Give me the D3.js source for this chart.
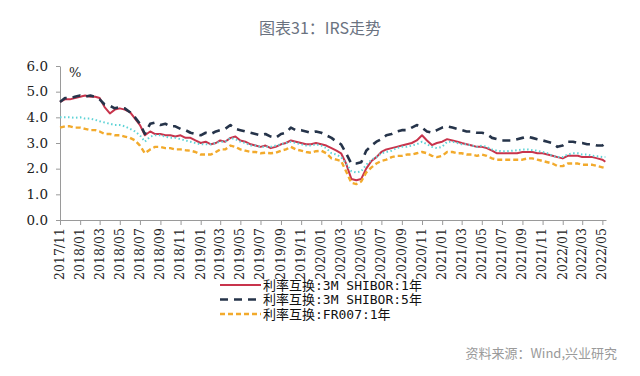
<!DOCTYPE html>
<html>
<head>
<meta charset="utf-8">
<script src="https://cdn.jsdelivr.net/npm/d3@7"></script>
<style>
  body { margin: 0; background: #fff; }
  svg { display: block; }
</style>
</head>
<body>
<svg id="chart" width="640" height="376"></svg>
<script>
// half-month readings, 2017/11 .. 2022/05
var red1y = [
  4.6,4.7, 4.7,4.75,
  4.8,4.85, 4.8,4.8, 4.75,4.4, 4.15,4.3, 4.35,4.3, 4.2,3.95, 3.7,3.3, 3.45,3.35, 3.35,3.3, 3.3,3.25, 3.3,3.2, 3.2,3.1,
  3.0,3.05, 2.95,3.0, 3.1,3.05, 3.2,3.25, 3.1,3.05, 2.95,2.9, 2.85,2.9, 2.8,2.85, 2.95,3.0, 3.1,3.05, 3.0,2.95, 2.95,3.0,
  2.95,2.9, 2.8,2.7, 2.6,2.2, 1.6,1.55, 1.6,2.0, 2.3,2.45, 2.65,2.75, 2.8,2.85, 2.9,2.95, 3.0,3.1, 3.3,3.1, 2.92,3.0,
  3.05,3.15, 3.1,3.05, 3.0,2.95, 2.9,2.85, 2.85,2.8, 2.7,2.6, 2.6,2.6, 2.6,2.6, 2.65,2.65, 2.65,2.6, 2.6,2.55, 2.5,2.45,
  2.4,2.5, 2.5,2.5, 2.45,2.45, 2.45,2.4, 2.35,2.27
];
var shibor5y = [
  4.6,4.75, 4.75,4.8,
  4.85,4.8, 4.85,4.8, 4.7,4.5, 4.45,4.35, 4.4,4.35, 4.2,4.0, 3.75,3.35, 3.75,3.8, 3.7,3.75, 3.65,3.65, 3.55,3.5, 3.4,3.35,
  3.3,3.4, 3.35,3.45, 3.5,3.55, 3.7,3.55, 3.5,3.45, 3.4,3.35, 3.3,3.35, 3.25,3.2, 3.35,3.4, 3.6,3.5, 3.5,3.45, 3.4,3.45,
  3.4,3.3, 3.2,3.05, 2.95,2.6, 2.2,2.2, 2.25,2.7, 2.9,3.05, 3.15,3.3, 3.35,3.45, 3.5,3.5, 3.6,3.7, 3.6,3.45, 3.4,3.5,
  3.6,3.65, 3.6,3.55, 3.5,3.45, 3.45,3.4, 3.4,3.35, 3.2,3.15, 3.1,3.1, 3.1,3.15, 3.2,3.25, 3.2,3.15, 3.1,3.05, 3.0,2.85,
  2.9,3.05, 3.05,3.0, 3.0,2.95, 2.95,2.9, 2.9,3.0
];
var fr007_5y = [
  4.0,4.0, 4.0,3.98,
  4.0,3.95, 3.95,3.9, 3.85,3.8, 3.75,3.7, 3.7,3.65, 3.55,3.45, 3.3,3.05, 3.25,3.3, 3.3,3.25, 3.2,3.2, 3.15,3.1, 3.05,3.0,
  2.95,2.95, 2.95,3.0, 3.05,3.05, 3.2,3.15, 3.05,3.0, 2.9,2.9, 2.85,2.85, 2.85,2.9, 2.95,3.0, 3.05,3.0, 2.95,2.9, 2.9,2.95,
  2.9,2.8, 2.6,2.55, 2.45,2.2, 1.9,1.85, 1.9,2.15, 2.35,2.45, 2.6,2.65, 2.7,2.8, 2.85,2.85, 2.9,2.95, 3.05,2.95, 2.85,2.8,
  2.85,3.05, 3.05,3.0, 2.95,2.95, 2.9,2.85, 2.9,2.85, 2.75,2.7, 2.68,2.68, 2.7,2.72, 2.75,2.75, 2.72,2.7, 2.65,2.6, 2.5,2.45,
  2.45,2.55, 2.6,2.6, 2.55,2.55, 2.5,2.48, 2.45,2.45
];
var fr007_1y = [
  3.6,3.65, 3.65,3.6,
  3.6,3.55, 3.5,3.5, 3.45,3.35, 3.35,3.3, 3.3,3.25, 3.2,3.1, 2.9,2.6, 2.75,2.85, 2.85,2.8, 2.8,2.75, 2.75,2.72, 2.7,2.65,
  2.55,2.55, 2.55,2.65, 2.75,2.75, 2.9,2.85, 2.75,2.7, 2.65,2.65, 2.6,2.62, 2.6,2.62, 2.7,2.75, 2.85,2.75, 2.7,2.65, 2.62,2.68,
  2.7,2.6, 2.4,2.35, 2.3,1.9, 1.45,1.4, 1.5,1.85, 2.05,2.2, 2.3,2.35, 2.45,2.5, 2.5,2.55, 2.55,2.6, 2.65,2.6, 2.5,2.45,
  2.5,2.65, 2.65,2.6, 2.6,2.55, 2.55,2.5, 2.55,2.5, 2.4,2.35, 2.35,2.35, 2.35,2.35, 2.35,2.4, 2.4,2.35, 2.3,2.25, 2.2,2.1,
  2.1,2.2, 2.2,2.2, 2.15,2.15, 2.15,2.1, 2.05,2.02
];
var yTicks = [0, 1, 2, 3, 4, 5, 6];
var legendNames = ['利率互换:3M SHIBOR:1年', '利率互换:3M SHIBOR:5年', '利率互换:FR007:1年'];

var serifFont = '"DejaVu Serif", "Liberation Serif", serif';

function drawChart() {
  // x categories: 1st and 16th of each month, then the last May points
  var dates = [];
  d3.timeMonth.range(new Date(2017, 10, 1), new Date(2022, 4, 1)).forEach(function(m) {
    dates.push(m);
    dates.push(new Date(m.getFullYear(), m.getMonth(), 16));
  });
  dates.push(new Date(2022, 4, 1));
  dates.push(new Date(2022, 4, 10));

  var series = [
    {values: red1y,    color: '#c8344c', width: 2,   dash: null},
    {values: fr007_5y, color: '#5fd3d6', width: 2,   dash: '1.5,2.5'},
    {values: fr007_1y, color: '#f2aa2c', width: 2.4, dash: '5,3'},
    {values: shibor5y, color: '#26344a', width: 2.6, dash: '8,6'}
  ];

  var svg = d3.select('#chart');
  var plotLeft = 60, plotRight = 606, plotTop = 66, plotBottom = 220;

  var x = d3.scaleTime()
      .domain([new Date(2017, 10, 1), new Date(2022, 4, 12)])
      .range([plotLeft, plotRight]);
  var y = d3.scaleLinear()
      .domain([0, 6])
      .range([plotBottom, plotTop]);

  svg.append('text')
    .attr('x', 320).attr('y', 34)
    .attr('text-anchor', 'middle')
    .attr('font-family', '"Noto Sans CJK SC", "Noto Sans", sans-serif')
    .attr('font-size', 16)
    .attr('fill', '#6a7280')
    .text('图表31：IRS走势');

  var yAxis = svg.append('g')
    .attr('transform', 'translate(' + plotLeft + ',0)')
    .call(d3.axisLeft(y).tickValues(yTicks).tickFormat(d3.format('.1f')).tickSize(4).tickPadding(8).tickSizeOuter(0));
  yAxis.attr('font-family', serifFont);
  yAxis.selectAll('text')
    .style('font-family', serifFont)
    .attr('font-size', 13.5)
    .attr('fill', '#222');

  var xAxis = svg.append('g')
    .attr('transform', 'translate(0,' + plotBottom + ')')
    .call(d3.axisBottom(x).ticks(d3.timeMonth.every(2)).tickFormat(d3.timeFormat('%Y/%m')).tickSize(5).tickSizeOuter(0));
  xAxis.attr('font-family', serifFont);
  xAxis.selectAll('text')
    .style('font-family', serifFont)
    .attr('transform', 'rotate(-90)')
    .attr('x', -8).attr('y', -1).attr('dy', '0.35em')
    .attr('text-anchor', 'end')
    .attr('font-size', 12.5)
    .attr('fill', '#222');

  svg.selectAll('.domain, .tick line').attr('stroke', '#9a9a9a');

  svg.append('text')
    .style('font-family', serifFont)
    .attr('x', 69).attr('y', 77)
    .attr('font-size', 13)
    .attr('fill', '#222')
    .text('%');

  var line = d3.line()
      .x(function(d, i) { return x(dates[i]); })
      .y(function(d) { return y(d); });

  svg.append('g').selectAll('path')
    .data(series)
    .enter().append('path')
      .attr('d', function(s) { return line(s.values); })
      .attr('fill', 'none')
      .attr('stroke', function(s) { return s.color; })
      .attr('stroke-width', function(s) { return s.width; })
      .attr('stroke-dasharray', function(s) { return s.dash; })
      .attr('stroke-linejoin', 'round');

  var legendStyles = [series[0], series[3], series[2]];
  var legend = svg.append('g').attr('transform', 'translate(220,285)');
  var rows = legend.selectAll('g')
    .data(legendNames)
    .enter().append('g')
      .attr('transform', function(d, i) { return 'translate(0,' + i * 14.5 + ')'; });
  rows.append('line')
    .attr('x1', 0).attr('x2', 41)
    .attr('stroke', function(d, i) { return legendStyles[i].color; })
    .attr('stroke-width', function(d, i) { return legendStyles[i].width; })
    .attr('stroke-dasharray', function(d, i) { return legendStyles[i].dash; });
  rows.append('text')
    .attr('x', 43).attr('dy', '0.35em')
    .attr('font-family', '"DejaVu Sans Mono", "Noto Sans CJK SC", monospace')
    .attr('font-size', 13)
    .attr('fill', '#111')
    .text(function(d) { return d; });

  svg.append('text')
    .attr('x', 617).attr('y', 358)
    .attr('text-anchor', 'end')
    .attr('font-family', '"Noto Sans CJK SC", "Noto Sans", sans-serif')
    .attr('font-size', 13)
    .attr('fill', '#9a9a9a')
    .text('资料来源：Wind,兴业研究');
}

drawChart();
</script>
</body>
</html>
